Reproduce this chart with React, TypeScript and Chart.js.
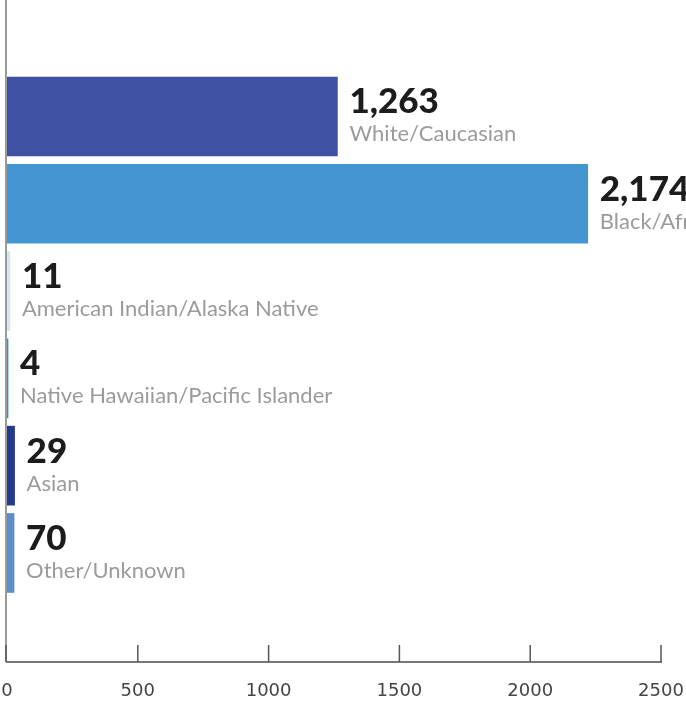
import React, { useEffect, useRef } from "react";
import { Chart, registerables } from "chart.js";

Chart.register(...registerables);

const categories = [
  "White/Caucasian",
  "Black/African American",
  "American Indian/Alaska Native",
  "Native Hawaiian/Pacific Islander",
  "Asian",
  "Other/Unknown",
];
const countLabels = ["1,263", "2,174", "11", "4", "29", "70"];
const barLengths = [1263, 2220, 11, 4, 29, 27];
const barColors = ["#3f51a3", "#4496d2", "#cfe8f3", "#1b9ad6", "#243a8f", "#5b8ccc"];
const xTicks = [0, 500, 1000, 1500, 2000, 2500];

const axisPlugin = {
  id: "axisDecor",
  afterDraw(chart: any) {
    const { ctx, chartArea } = chart;
    const xs = chart.scales.x;
    ctx.save();
    ctx.strokeStyle = "#9a9a96";
    ctx.lineWidth = 2;
    ctx.beginPath();
    ctx.moveTo(chartArea.left - 1, 0);
    ctx.lineTo(chartArea.left - 1, chartArea.bottom);
    ctx.stroke();
    ctx.strokeStyle = "#555";
    ctx.lineWidth = 1.5;
    xTicks.forEach((v) => {
      const px = xs.getPixelForValue(v) - (v === 0 ? 1 : 0);
      ctx.beginPath();
      ctx.moveTo(px, chartArea.bottom - 17);
      ctx.lineTo(px, chartArea.bottom);
      ctx.stroke();
    });
    ctx.restore();
  },
};

const labelPlugin = {
  id: "barLabels",
  afterDatasetsDraw(chart: any) {
    const { ctx } = chart;
    const meta = chart.getDatasetMeta(0);
    ctx.save();
    meta.data.forEach((bar: any, i: number) => {
      const x = bar.x + 12;
      const y = bar.y;
      ctx.textAlign = "left";
      ctx.textBaseline = "alphabetic";
      ctx.fillStyle = "#1c1c1c";
      ctx.font = "900 35px Lato";
      ctx.fillText(countLabels[i], x, y - 3);
      ctx.fillStyle = "#9b9b9b";
      ctx.font = "22px Lato";
      ctx.fillText(categories[i], x, y + 25);
    });
    ctx.restore();
  },
};

export default function App() {
  const ref = useRef<HTMLCanvasElement>(null);
  useEffect(() => {
    if (!ref.current) return;
    const chart = new Chart(ref.current, {
      type: "bar",
      data: {
        labels: categories,
        datasets: [
          {
            data: barLengths.map((v, i) => ({ x: v, y: i })) as any,
            backgroundColor: barColors,
            barThickness: 79,
          },
        ],
      },
      options: {
        indexAxis: "y",
        animation: false,
        responsive: false,
        devicePixelRatio: 1,
        layout: { padding: { left: 7, right: 25, top: 0, bottom: 0 } },
        plugins: { legend: { display: false }, tooltip: { enabled: false } },
        scales: {
          x: {
            type: "linear",
            min: 0,
            max: 2500,
            offset: false,
            afterBuildTicks: (s: any) => {
              s.ticks = xTicks.map((v) => ({ value: v }));
            },
            afterFit: (s: any) => {
              s.height = 40;
              s.paddingLeft = 0;
              s.paddingRight = 0;
            },
            grid: { display: false, drawTicks: false, offset: false },
            border: { display: true, color: "#777", width: 2 },
            ticks: {
              padding: 19,
              color: "#444",
              font: { family: "DejaVu Sans", size: 18 },
              callback: (v: any) => String(v),
            },
          },
          y: {
            type: "linear",
            reverse: true,
            min: -1.334,
            max: 6.249,
            offset: false,
            display: false,
          } as any,
        },
      },
      plugins: [axisPlugin, labelPlugin],
    });
    return () => chart.destroy();
  }, []);
  return (
    <div style={{ position: "absolute", top: 0, left: 0, width: 686, height: 702 }}>
      <canvas ref={ref} width={686} height={702} />
    </div>
  );
}
